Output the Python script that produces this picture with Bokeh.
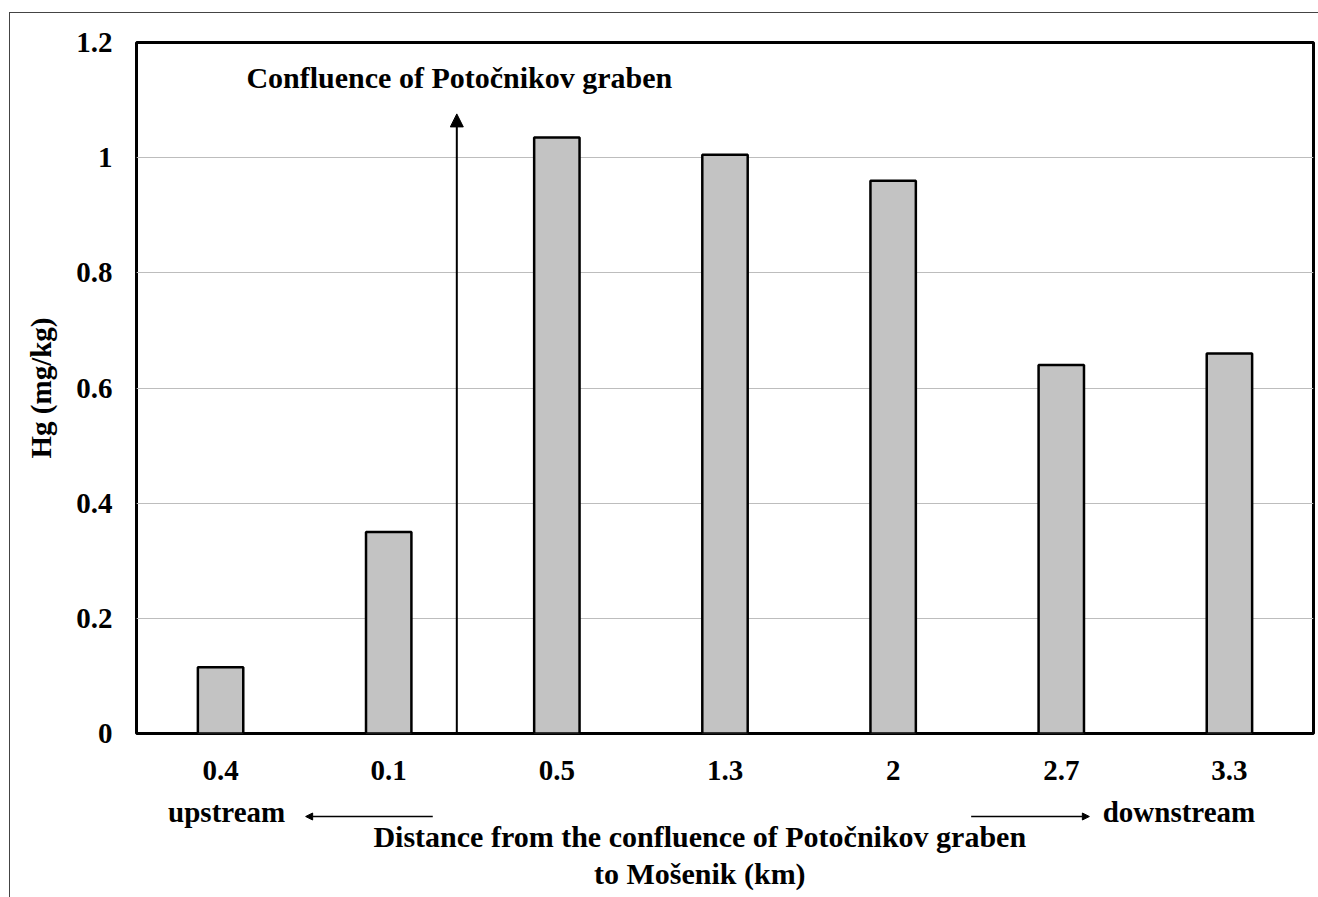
from bokeh.plotting import figure
from bokeh.layouts import column
from bokeh.models import (FactorRange, Range1d, FixedTicker, CustomJSTickFormatter,
                          Arrow, NormalHead, Label)
from bokeh.embed import file_html
from bokeh.resources import INLINE

# ---- data ----
distances = ["0.4", "0.1", "0.5", "1.3", "2", "2.7", "3.3"]
hg_values = [0.115, 0.35, 1.035, 1.005, 0.96, 0.64, 0.66]
y_ticks = [0, 0.2, 0.4, 0.6, 0.8, 1.0, 1.2]

FONT = "Liberation Serif"
FS = "29px"

p = figure(x_range=FactorRange(*distances), y_range=Range1d(0, 1.2),
           width=1308, height=778, frame_width=1177, frame_height=691,
           min_border_left=126, min_border_right=5, min_border_top=29, min_border_bottom=58,
           output_backend="svg", toolbar_location=None)

p.vbar(x=distances, top=hg_values, width=0.27, fill_color="#c3c3c3",
       line_color="black", line_width=2.5)

p.outline_line_color = "black"
p.outline_line_width = 3
p.background_fill_color = "white"
p.border_fill_color = "white"

p.xgrid.grid_line_color = None
p.ygrid.grid_line_color = "#bdbdbd"
p.ygrid.grid_line_width = 1
p.yaxis.ticker = FixedTicker(ticks=y_ticks)
p.yaxis.formatter = CustomJSTickFormatter(code="return tick.toFixed(1).replace(/\\.0$/, '');")

for ax in (p.xaxis[0], p.yaxis[0]):
    ax.axis_line_color = None
    ax.major_tick_line_color = None
    ax.minor_tick_line_color = None
    ax.major_label_text_font = FONT
    ax.major_label_text_font_style = "bold"
    ax.major_label_text_font_size = FS
    ax.major_label_text_color = "black"

p.yaxis.major_label_standoff = 18
p.xaxis.major_label_standoff = 21
p.yaxis.axis_label = "Hg (mg/kg)"
p.yaxis.axis_label_text_font = FONT
p.yaxis.axis_label_text_font_style = "bold"
p.yaxis.axis_label_text_font_size = "29px"
p.yaxis.axis_label_text_color = "black"
p.yaxis.axis_label_standoff = 16

# confluence arrow and label
p.add_layout(Arrow(x_start=1.905, y_start=0, x_end=1.905, y_end=1.076,
                   line_width=2, line_color="black",
                   end=NormalHead(size=13, fill_color="black", line_color="black")))
p.add_layout(Label(x=1.92, y=1.139, text="Confluence of Potočnikov graben",
                   text_font=FONT, text_font_style="bold", text_font_size="30px",
                   text_align="center", text_baseline="middle", text_color="black"))

# ---- strip below the chart for the axis caption (shares the x range) ----
q = figure(x_range=p.x_range, y_range=Range1d(106, 0),
           width=1308, height=106, frame_width=1177, frame_height=106,
           min_border_left=126, min_border_right=5, min_border_top=0, min_border_bottom=0,
           x_axis_location=None, y_axis_location=None,
           output_backend="svg", toolbar_location=None)
q.grid.visible = False
q.outline_line_color = None
q.background_fill_color = "white"
q.border_fill_color = "white"

txt = dict(text_font=FONT, text_font_style="bold",
           text_align="center", text_baseline="middle", text_color="black")
q.add_layout(Label(x=0.536, y=20, text="upstream", text_font_size=FS, **txt))
q.add_layout(Label(x=6.2, y=20, text="downstream", text_font_size=FS, **txt))
q.add_layout(Label(x=3.35, y=45, text="Distance from the confluence of Potočnikov graben",
                   text_font_size="30px", **txt))
q.add_layout(Label(x=3.35, y=82, text="to Mošenik (km)", text_font_size="30px", **txt))
q.add_layout(Arrow(x_start=1.762, y_start=25, x_end=1.006, y_end=25,
                   line_width=1.5, line_color="black",
                   end=NormalHead(size=7, fill_color="black", line_color="black")))
q.add_layout(Arrow(x_start=4.964, y_start=25, x_end=5.667, y_end=25,
                   line_width=1.5, line_color="black",
                   end=NormalHead(size=7, fill_color="black", line_color="black")))

layout = column(p, q, spacing=0,
                styles={"border-top": "1px solid #444", "border-left": "1px solid #444",
                        "margin-top": "12px", "margin-left": "9px"})

open("out.html", "w").write(file_html(layout, INLINE))
